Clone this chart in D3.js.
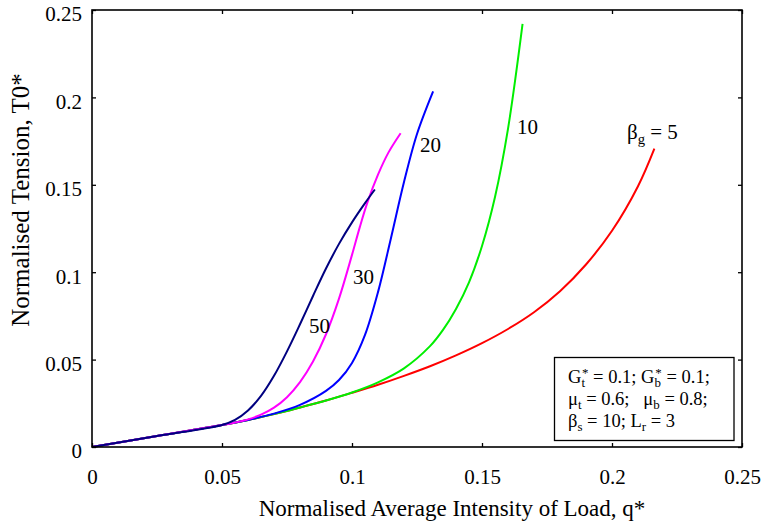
<!DOCTYPE html>
<html>
<head>
<meta charset="utf-8">
<script src="https://cdn.jsdelivr.net/npm/d3@7"></script>
<style>
  body { margin: 0; background: #fff; }
  svg { display: block; font-family: "Liberation Serif", "Times New Roman", serif; }
</style>
</head>
<body>
<div id="viz"></div>
<script>
// T0* against q* for several beta_g values
var tickValues = [0, 0.05, 0.1, 0.15, 0.2, 0.25];
var tickLabels = ["0", "0.05", "0.1", "0.15", "0.2", "0.25"];

var betaG = [5, 10, 20, 30, 50];
var curveLabels = ["5", "10", "20", "30", "50"];

var q5  = [0, 0.025, 0.05, 0.06, 0.07, 0.08, 0.09, 0.1, 0.11, 0.12, 0.13, 0.14, 0.15, 0.16, 0.17, 0.18, 0.19, 0.2, 0.21, 0.2163];
var t5  = [0, 0.0063, 0.0126, 0.0155, 0.0188, 0.0226, 0.0266, 0.031, 0.0356, 0.0407, 0.0462, 0.0524, 0.0594, 0.0675, 0.0771, 0.0891, 0.1044, 0.1237, 0.1492, 0.1707];

var q10 = [0, 0.025, 0.05, 0.06, 0.07, 0.08, 0.09, 0.1, 0.11, 0.12, 0.13, 0.135, 0.14, 0.145, 0.15, 0.155, 0.16, 0.1656];
var t10 = [0, 0.0063, 0.0126, 0.0155, 0.0188, 0.0226, 0.0266, 0.0312, 0.037, 0.045, 0.0577, 0.067, 0.079, 0.0942, 0.115, 0.143, 0.182, 0.242];

var q20 = [0, 0.025, 0.05, 0.06, 0.07, 0.08, 0.09, 0.095, 0.1, 0.105, 0.11, 0.115, 0.12, 0.125, 0.1312];
var t20 = [0, 0.0063, 0.0126, 0.0155, 0.0191, 0.0241, 0.0321, 0.0383, 0.0481, 0.0641, 0.0886, 0.1196, 0.1516, 0.1791, 0.2035];

var q30 = [0, 0.025, 0.05, 0.055, 0.06, 0.065, 0.07, 0.075, 0.08, 0.085, 0.09, 0.095, 0.1, 0.103, 0.106, 0.11, 0.114, 0.1187];
var t30 = [0, 0.0063, 0.0126, 0.014, 0.0158, 0.0185, 0.0225, 0.0285, 0.0371, 0.0489, 0.0645, 0.0849, 0.1099, 0.1258, 0.1402, 0.1558, 0.1684, 0.1795];

var q50 = [0, 0.025, 0.05, 0.055, 0.06, 0.065, 0.07, 0.075, 0.08, 0.085, 0.09, 0.095, 0.1, 0.105, 0.1088];
var t50 = [0, 0.0063, 0.0126, 0.0155, 0.0209, 0.0292, 0.0407, 0.0547, 0.0702, 0.0864, 0.1021, 0.1162, 0.1285, 0.1395, 0.1473];

var colors = ["#ff0000", "#00ee00", "#0000ff", "#ff00ff", "#000080"];
var qs = [q5, q10, q20, q30, q50];
var ts = [t5, t10, t20, t30, t50];

var W = 763, H = 526;
var plotLeft = 92, plotRight = 742, plotTop = 10, plotBottom = 447;

// write a line of text made of pieces [text, shift, dx]; shift > 0 = subscript, < 0 = superscript
function rich(sel, x, y, pieces) {
    var t = sel.append("text").attr("x", x).attr("y", y);
    var prev = 0;
    pieces.forEach(function(p) {
        var shift = p[1] || 0;
        var ts = t.append("tspan").attr("dy", shift - prev).text(p[0]);
        if (p[2]) ts.attr("dx", p[2]);
        if (shift != 0) ts.attr("font-size", "70%");
        prev = shift;
    });
    return t;
}

function main() {
    var svg = d3.select("#viz").append("svg")
        .attr("width", W)
        .attr("height", H);

    var x = d3.scaleLinear().domain([0, 0.25]).range([plotLeft, plotRight]);
    var y = d3.scaleLinear().domain([0, 0.25]).range([plotBottom, plotTop]);

    var line = d3.line()
        .x(function(d) { return x(d[0]); })
        .y(function(d) { return y(d[1]); })
        .curve(d3.curveCatmullRom.alpha(0.5));

    // curves first, frame on top
    var curves = svg.append("g").attr("id", "curves");
    for (var i = 0; i < betaG.length; i++) {
        var pts = d3.zip(qs[i], ts[i]);
        curves.append("path")
            .datum(pts)
            .attr("d", line)
            .attr("fill", "none")
            .attr("stroke", colors[i])
            .attr("stroke-width", 2);
    }

    // axes: ticks pointing inwards on all four sides
    var fmt = function(d) { return tickLabels[tickValues.indexOf(d)]; };

    svg.append("g")
        .attr("transform", "translate(0," + plotBottom + ")")
        .call(d3.axisBottom(x).tickValues(tickValues).tickFormat(fmt)
              .tickSizeInner(-4).tickSizeOuter(0).tickPadding(22));
    var yAxis = svg.append("g")
        .attr("transform", "translate(" + plotLeft + ",0)")
        .call(d3.axisLeft(y).tickValues(tickValues).tickFormat(fmt)
              .tickSizeInner(-4).tickSizeOuter(0).tickPadding(10));
    svg.append("g")
        .attr("transform", "translate(0," + plotTop + ")")
        .call(d3.axisTop(x).tickValues(tickValues).tickFormat("")
              .tickSizeInner(-4).tickSizeOuter(0));
    svg.append("g")
        .attr("transform", "translate(" + plotRight + ",0)")
        .call(d3.axisRight(y).tickValues(tickValues).tickFormat("")
              .tickSizeInner(-4).tickSizeOuter(0));

    svg.selectAll(".domain").remove();
    svg.selectAll(".tick line").attr("stroke", "#000").attr("stroke-width", 1.3);
    svg.selectAll(".tick text")
        .attr("font-family", "Liberation Serif")
        .attr("font-size", 21)
        .attr("fill", "#000");
    yAxis.selectAll(".tick text").attr("dy", "0.52em");

    svg.append("rect")
        .attr("x", plotLeft).attr("y", plotTop)
        .attr("width", plotRight - plotLeft).attr("height", plotBottom - plotTop)
        .attr("fill", "none").attr("stroke", "#000").attr("stroke-width", 1.6);

    // axis titles
    svg.append("text")
        .attr("x", 452).attr("y", 516)
        .attr("text-anchor", "middle")
        .attr("font-size", 23)
        .text("Normalised Average Intensity of Load, q*");
    svg.append("text")
        .attr("transform", "translate(29,200) rotate(-90)")
        .attr("text-anchor", "middle")
        .attr("font-size", 25)
        .text("Normalised Tension, T0*");

    // curve labels
    var lab = svg.append("g").attr("font-size", 21);
    var labPos = [[627, 139], [517, 134], [420, 152], [353, 284], [309, 333]];
    for (var j = 0; j < betaG.length; j++) {
        if (j == 0)
            rich(lab, labPos[j][0], labPos[j][1], [["β"], ["g", 5], [" = " + curveLabels[j]]]);
        else
            lab.append("text").attr("x", labPos[j][0]).attr("y", labPos[j][1]).text(curveLabels[j]);
    }

    // parameter box
    svg.append("rect")
        .attr("x", 554.5).attr("y", 357.5)
        .attr("width", 179.5).attr("height", 83)
        .attr("fill", "#fff").attr("stroke", "#000").attr("stroke-width", 1.3);

    // sub- and superscripts sit one above the other, as in the figure
    var box = svg.append("g").attr("font-size", 18.5);
    rich(box, 568, 383, [["G"], ["t", 4], ["*", -6, -3], [" = 0.1; G"], ["b", 4], ["*", -6, -5.5], [" = 0.1;"]]);
    rich(box, 568, 405, [["μ"], ["t", 4], [" = 0.6;\u00a0\u00a0 μ"], ["b", 4], [" = 0.8;"]]);
    rich(box, 568, 426.5, [["β"], ["s", 4], [" = 10; L"], ["r", 4], [" = 3"]]);
}

main();
</script>
</body>
</html>
